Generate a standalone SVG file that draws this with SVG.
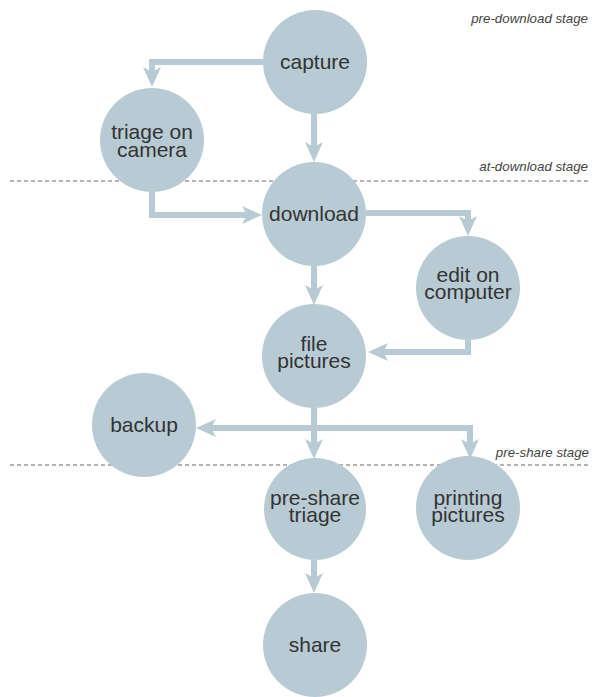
<svg xmlns="http://www.w3.org/2000/svg" width="598" height="697" viewBox="0 0 598 697">
<style>
.node circle{fill:#b8cbd4}
.node text{font-family:"Liberation Sans",Arial,sans-serif;font-size:21px;fill:#333;text-anchor:middle}
.stage{font-family:"Liberation Sans",Arial,sans-serif;font-size:13.3px;font-style:italic;fill:#444;text-anchor:end}
.dash{stroke:#666;stroke-width:1;stroke-dasharray:4 3;fill:none}
#connectors path{fill:none;stroke:#b8cbd4;stroke-width:6;marker-end:url(#ah)}
</style>
<defs>
<marker id="ah" markerUnits="userSpaceOnUse" viewBox="0 0 20 18" refX="5" refY="9" markerWidth="20" markerHeight="18" orient="auto">
<path d="M0,0 L20,9 L0,18 L5,9 Z" fill="#b8cbd4"/>
</marker>
</defs>
<rect width="598" height="697" fill="#fff"/>
<g id="stages">
<line class="dash" x1="10" y1="181" x2="590" y2="181"/>
<line class="dash" x1="10" y1="465" x2="590" y2="465"/>
<text class="stage" x="588" y="23">pre-download stage</text>
<text class="stage" x="588" y="171">at-download stage</text>
<text class="stage" x="589" y="457">pre-share stage</text>
</g>
<g id="connectors">
<path d="M263,62 H152 V72"/>
<path d="M314,113 V147"/>
<path d="M152,192 V215 H247"/>
<path d="M366,213 H468 V221"/>
<path d="M314,266 V290"/>
<path d="M468,340 V352 H383"/>
<path d="M314,408 V428 H211"/>
<path d="M314,408 V444"/>
<path d="M314,428 H470 V444"/>
<path d="M314,560 V578"/>
</g>
<g id="capture" class="node"><circle cx="315" cy="62" r="52"/><text x="315" y="69">capture</text></g>
<g id="triage-camera" class="node"><circle cx="152" cy="140" r="52"/><text x="152" y="139">triage on</text><text x="152" y="157">camera</text></g>
<g id="download" class="node"><circle cx="314" cy="214" r="52"/><text x="314" y="221">download</text></g>
<g id="edit" class="node"><circle cx="468" cy="288" r="52"/><text x="468" y="282">edit on</text><text x="468" y="299">computer</text></g>
<g id="file" class="node"><circle cx="314" cy="356" r="52"/><text x="314" y="351">file</text><text x="314" y="368">pictures</text></g>
<g id="backup" class="node"><circle cx="144" cy="425" r="52"/><text x="144" y="432">backup</text></g>
<g id="preshare" class="node"><circle cx="315" cy="509" r="51"/><text x="315" y="505">pre-share</text><text x="315" y="522">triage</text></g>
<g id="printing" class="node"><circle cx="468" cy="508" r="52"/><text x="468" y="505">printing</text><text x="468" y="522">pictures</text></g>
<g id="share" class="node"><circle cx="315" cy="645" r="52"/><text x="315" y="652">share</text></g>
</svg>
